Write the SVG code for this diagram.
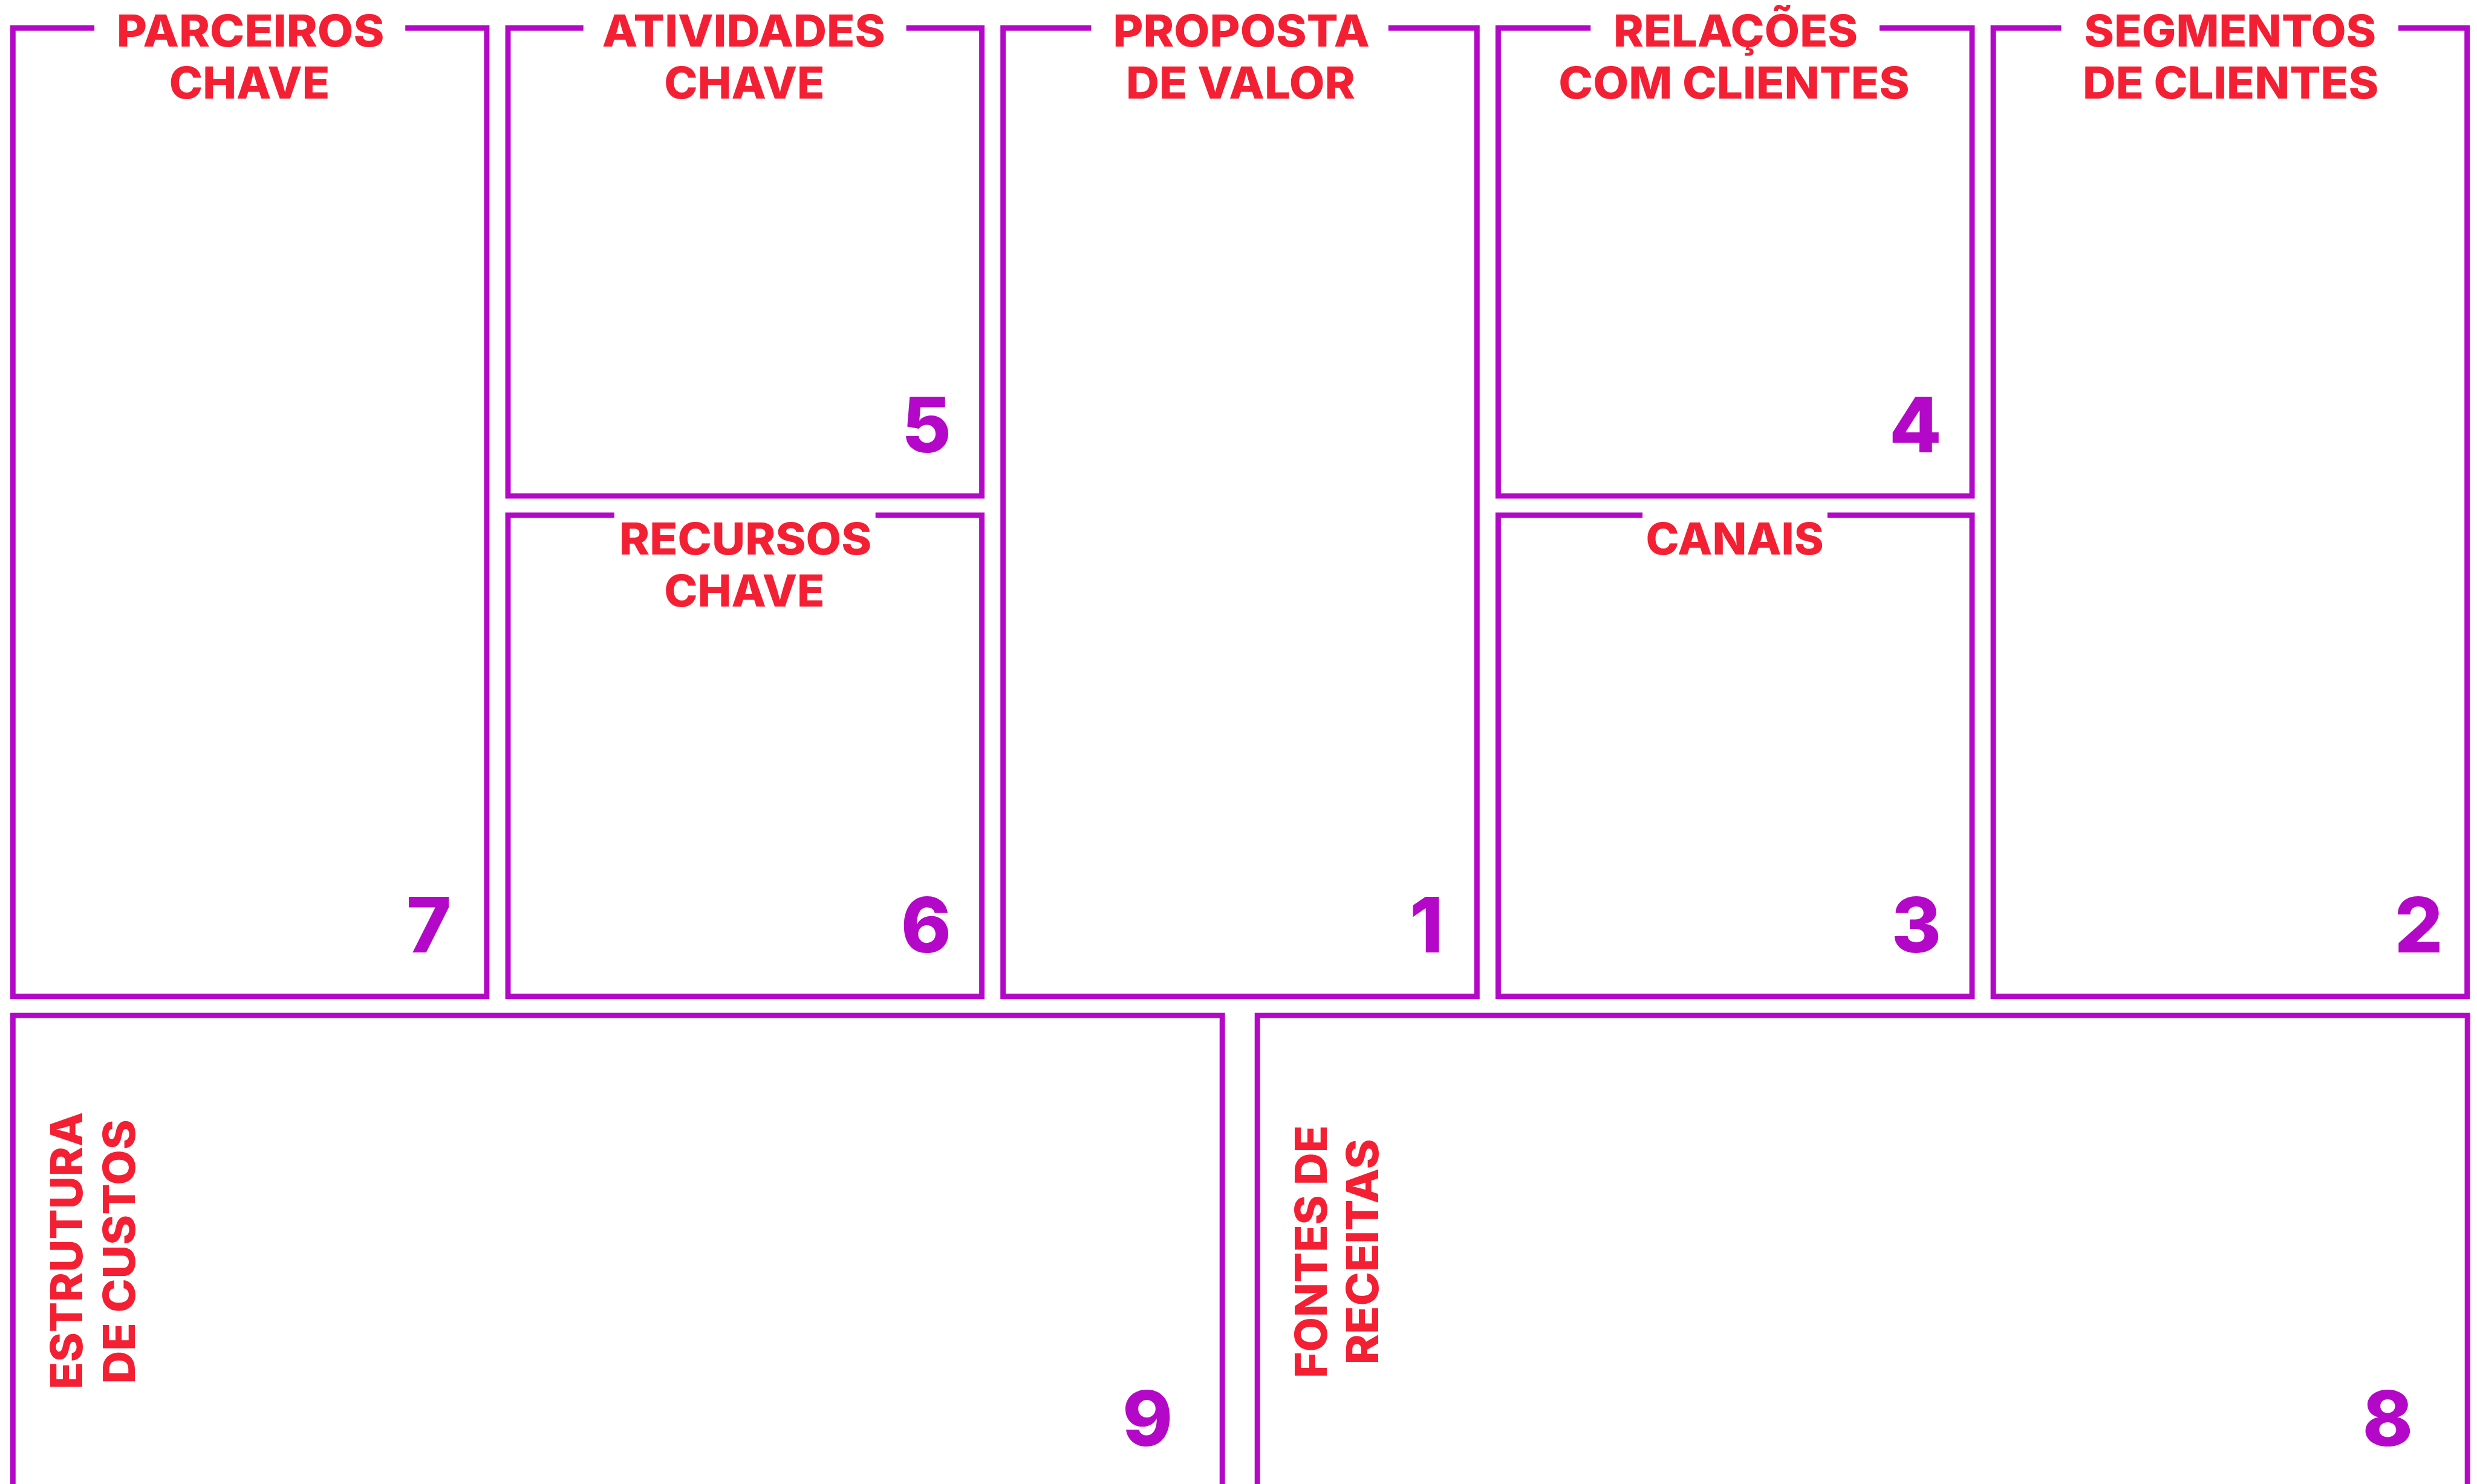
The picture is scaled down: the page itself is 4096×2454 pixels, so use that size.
<svg xmlns="http://www.w3.org/2000/svg" width="4096" height="2454" viewBox="0 0 4096 2454">
<style>
.box{fill:none;stroke:#B408C8;stroke-width:8.95;stroke-linejoin:miter;stroke-linecap:butt}
.lbl{font-family:Inter,"Open Sans","Liberation Sans",sans-serif;font-weight:800;font-size:73px;fill:#F32034}
.num{font-family:Inter,"Open Sans","Liberation Sans",sans-serif;font-weight:800;font-size:126px;fill:#B408C8;text-anchor:middle}
</style>
<rect x="0" y="0" width="4096" height="2454" fill="#FFFFFF"/>
<g id="parceiros-chave">
<path class="box" d="M156.1,46.2 H21.3 V1647.8 H804.9 V46.2 H670.2"/>
<text class="lbl" x="192.8" y="76.8" textLength="442.8" lengthAdjust="spacingAndGlyphs">PARCEIROS</text>
<text class="lbl" x="279.7" y="162.9" textLength="265.5" lengthAdjust="spacingAndGlyphs">CHAVE</text>
<text class="num" x="709" y="1574.8">7</text>
</g>
<g id="atividades-chave">
<path class="box" d="M964.7,46.2 H840 V820.1 H1623.6 V46.2 H1498.6"/>
<text class="lbl" x="995.8" y="76.8" textLength="468.2" lengthAdjust="spacingAndGlyphs">ATIVIDADES</text>
<text class="lbl" x="1098.3" y="162.9" textLength="265.3" lengthAdjust="spacingAndGlyphs">CHAVE</text>
<text class="num" x="1532" y="748.2">5</text>
</g>
<g id="recursos-chave">
<path class="box" d="M1015.9,852 H840 V1647.8 H1623.6 V852 H1447.7"/>
<text class="lbl" x="1024" y="917.1" textLength="417.4" lengthAdjust="spacingAndGlyphs">RECURSOS</text>
<text class="lbl" x="1098.3" y="1003.3" textLength="265.3" lengthAdjust="spacingAndGlyphs">CHAVE</text>
<text class="num" x="1531.4" y="1574.8">6</text>
</g>
<g id="proposta-de-valor">
<path class="box" d="M1804.4,46.2 H1658.7 V1647.8 H2442.3 V46.2 H2295.9"/>
<text class="lbl" x="1840.4" y="76.8" textLength="424.4" lengthAdjust="spacingAndGlyphs">PROPOSTA</text>
<text class="lbl" x="1862" y="162.9" textLength="379" lengthAdjust="spacingAndGlyphs">DE VALOR</text>
<text class="num" x="2358.7" y="1574.8">1</text>
</g>
<g id="relacoes-com-clientes">
<path class="box" d="M2630.3,46.2 H2477.4 V820.1 H3261 V46.2 H3108"/>
<text class="lbl" x="2667.9" y="76.8" textLength="404.3" lengthAdjust="spacingAndGlyphs">RELAÇÕES</text>
<text class="lbl" x="2577.3" y="162.9" textLength="580.5" lengthAdjust="spacingAndGlyphs">COM CLIENTES</text>
<text class="num" x="3167.3" y="748.2">4</text>
</g>
<g id="canais">
<path class="box" d="M2716.1,852 H2477.4 V1647.8 H3261 V852 H3021.9"/>
<text class="lbl" x="2721.4" y="917.1" textLength="294.5" lengthAdjust="spacingAndGlyphs">CANAIS</text>
<text class="num" x="3168.8" y="1574.8">3</text>
</g>
<g id="segmentos-de-clientes">
<path class="box" d="M3408.5,46.2 H3296.1 V1647.8 H4079.7 V46.2 H3966"/>
<text class="lbl" x="3446.3" y="76.8" textLength="483" lengthAdjust="spacingAndGlyphs">SEGMENTOS</text>
<text class="lbl" x="3444.1" y="162.9" textLength="489.4" lengthAdjust="spacingAndGlyphs">DE CLIENTES</text>
<text class="num" x="3999.6" y="1574.8">2</text>
</g>
<g id="estrutura-de-custos">
<path class="box" d="M21.3,2470 V1679.1 H2021.2 V2470"/>
<text class="lbl" transform="translate(136.2,2297.6) rotate(-90)" x="0" y="0" textLength="458.7" lengthAdjust="spacingAndGlyphs">ESTRUTURA</text>
<text class="lbl" transform="translate(222.9,2288.6) rotate(-90)" x="0" y="0" textLength="437.6" lengthAdjust="spacingAndGlyphs">DE CUSTOS</text>
<text class="num" x="1897.6" y="2391.2">9</text>
</g>
<g id="fontes-de-receitas">
<path class="box" d="M2079.2,2470 V1679.1 H4080.2 V2470"/>
<text class="lbl" transform="translate(2193.5,2279) rotate(-90)" x="0" y="0" textLength="418" lengthAdjust="spacingAndGlyphs">FONTES DE</text>
<text class="lbl" transform="translate(2279.4,2256.3) rotate(-90)" x="0" y="0" textLength="372.9" lengthAdjust="spacingAndGlyphs">RECEITAS</text>
<text class="num" x="3948.4" y="2391.2">8</text>
</g>
<g id="connectors"></g>
</svg>
